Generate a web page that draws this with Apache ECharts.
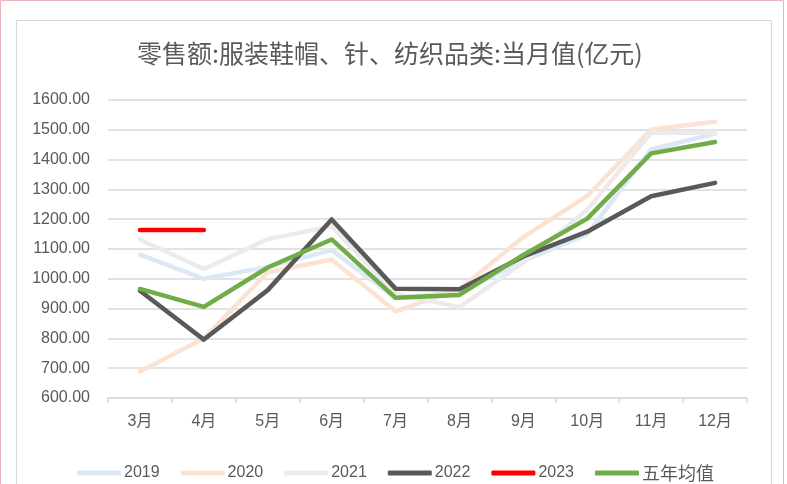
<!DOCTYPE html>
<html>
<head>
<meta charset="utf-8">
<script src="https://cdn.jsdelivr.net/npm/echarts@6/dist/echarts.min.js"></script>
<style>
html,body{margin:0;padding:0;background:#fff;}
#chart{width:787px;height:484px;}
</style>
</head>
<body>
<div id="chart"></div>
<script>
const titleText = '零售额:服装鞋帽、针、纺织品类:当月值(亿元)';
const categories = ['3月','4月','5月','6月','7月','8月','9月','10月','11月','12月'];
const yTicks = [600, 700, 800, 900, 1000, 1100, 1200, 1300, 1400, 1500, 1600];
const seriesNames = ['2019','2020','2021','2022','2023','五年均值'];
const v2019 = [1081, 1000, 1040, 1096, 935, 955, 1060, 1150, 1434, 1487];
const v2020 = [689, 800, 1022, 1065, 891, 965, 1140, 1278, 1501, 1527];
const v2021 = [1132, 1033, 1133, 1176, 950, 905, 1055, 1232, 1490, 1490];
const v2022 = [960, 796, 962, 1199, 967, 965, 1075, 1158, 1277, 1322];
const v2023 = [1164, 1164];
const vAvg = [966, 906, 1038, 1132, 936, 946, 1080, 1202, 1421, 1459];

const colors = ['#dce8f5', '#fbe3d4', '#ebebeb', '#595959', '#ff0000', '#70ad47'];
const dataSets = [v2019, v2020, v2021, v2022, v2023, vAvg];
const FONT = '"Liberation Sans", "Noto Sans CJK SC", sans-serif';

const chart = echarts.init(document.getElementById('chart'), null, {renderer: 'canvas'});
chart.setOption({
  animation: false,
  backgroundColor: '#fff',
  graphic: [
    {type: 'rect', shape: {x: 0.5, y: 0.5, width: 783, height: 500}, style: {fill: 'none', stroke: '#e9b5b8', lineWidth: 1}, silent: true},
    {type: 'rect', shape: {x: 16.5, y: 20.5, width: 755, height: 480}, style: {fill: 'none', stroke: '#d9d9d9', lineWidth: 1}, silent: true}
  ],
  title: {
    text: titleText,
    left: 132,
    top: 36,
    textStyle: {fontFamily: '"Noto Sans CJK SC", sans-serif', fontSize: 25, fontWeight: 'normal', color: '#595959'}
  },
  legend: {
    data: seriesNames,
    left: 72,
    top: 459,
    icon: 'roundRect',
    itemWidth: 44,
    itemHeight: 5,
    itemGap: 21,
    formatter: name => /^\d+$/.test(name) ? name : '{c|' + name + '}',
    textStyle: {
      fontFamily: FONT, fontSize: 16, color: '#595959', padding: [0, 0, 0, -2],
      rich: {c: {fontFamily: '"Noto Sans CJK SC", sans-serif', fontSize: 18, color: '#595959'}}
    }
  },
  grid: {left: 108, right: 40, top: 100, bottom: 86, containLabel: false},
  xAxis: {
    type: 'category',
    data: categories,
    boundaryGap: true,
    axisLine: {lineStyle: {color: '#d9d9d9', width: 1.5}},
    axisTick: {show: true, length: 5, lineStyle: {color: '#d9d9d9', width: 1.5}},
    axisLabel: {fontFamily: FONT, fontSize: 16, color: '#595959', margin: 16}
  },
  yAxis: {
    type: 'value',
    min: yTicks[0],
    max: yTicks[yTicks.length - 1],
    interval: 100,
    axisLine: {show: false},
    axisTick: {show: false},
    splitLine: {lineStyle: {color: '#d9d9d9', width: 1.5}},
    axisLabel: {fontFamily: FONT, fontSize: 16, color: '#595959', margin: 18, formatter: v => v.toFixed(2)}
  },
  series: seriesNames.map((name, i) => ({
    name: name,
    type: 'line',
    data: dataSets[i],
    symbol: 'none',
    smooth: false,
    itemStyle: {color: colors[i]},
    lineStyle: {color: colors[i], width: 4.5, cap: 'round', join: 'round'},
    z: 2 + i
  }))
});
</script>
</body>
</html>
